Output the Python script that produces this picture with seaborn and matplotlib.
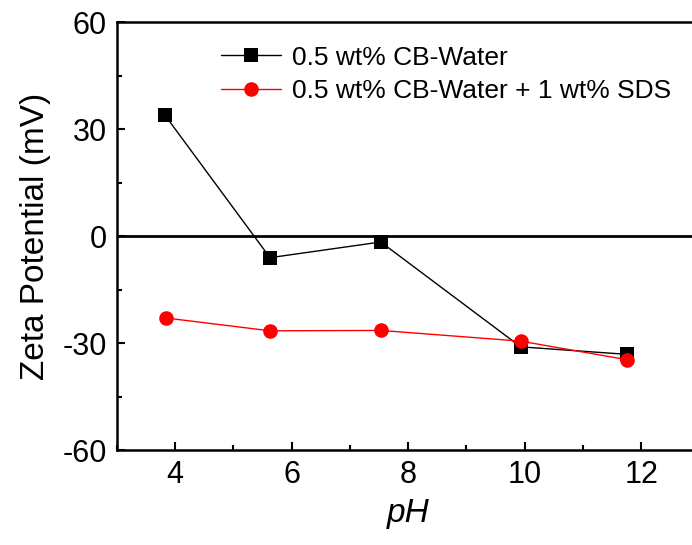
import matplotlib
matplotlib.use("Agg")
import matplotlib.pyplot as plt
from matplotlib.ticker import MultipleLocator
import seaborn as sns
import pandas as pd

ph_water = [3.83, 5.63, 7.53, 9.93, 11.75]
zeta_water = [33.9, -6.0, -1.6, -31.0, -33.1]
ph_sds = [3.84, 5.63, 7.53, 9.93, 11.75]
zeta_sds = [-22.9, -26.5, -26.4, -29.4, -34.6]
label_water = "0.5 wt% CB-Water"
label_sds = "0.5 wt% CB-Water + 1 wt% SDS"

sns.set_theme(style="white")
plt.rcParams['font.family'] = ['Liberation Sans', 'DejaVu Sans']
plt.rcParams['axes.unicode_minus'] = False
plt.rcParams['text.color'] = 'black'
plt.rcParams['axes.labelcolor'] = 'black'
plt.rcParams['xtick.color'] = 'black'
plt.rcParams['ytick.color'] = 'black'

fig = plt.figure(figsize=(6.92, 5.45), dpi=100)
ax = fig.add_axes([0.1686, 0.1738, 0.8425, 0.7853])

df_w = pd.DataFrame({"pH": ph_water, "zeta": zeta_water})
df_s = pd.DataFrame({"pH": ph_sds, "zeta": zeta_sds})

ax.axhline(0, color="black", lw=2.0, zorder=1)
sns.lineplot(data=df_w, x="pH", y="zeta", ax=ax, color="black", marker="s",
             markersize=9.5, markeredgewidth=0, lw=1.0, label=label_water, zorder=3)
sns.lineplot(data=df_s, x="pH", y="zeta", ax=ax, color="#ff0000", marker="o",
             markersize=10.5, markeredgewidth=0, lw=1.0, label=label_sds, zorder=4)

ax.set_xlim(3, 13)
ax.set_ylim(-60, 60)
ax.xaxis.set_major_locator(MultipleLocator(2))
ax.xaxis.set_minor_locator(MultipleLocator(1))
ax.yaxis.set_major_locator(MultipleLocator(30))
ax.yaxis.set_minor_locator(MultipleLocator(15))
ax.set_xticks([4, 6, 8, 10, 12])
ax.tick_params(axis="both", which="major", direction="in", length=6, width=1.5,
               labelsize=22, pad=7, bottom=True, left=True, top=False, right=False,
               color="black", labelcolor="black")
ax.tick_params(axis="both", which="minor", direction="in", length=3.5, width=1.5,
               bottom=True, left=True, top=False, right=False, color="black")
for s in ["left", "bottom", "top"]:
    ax.spines[s].set_linewidth(1.8)
    ax.spines[s].set_color("black")
ax.spines["right"].set_visible(False)

ax.set_xlabel("pH", fontsize=24, style="italic", labelpad=6, color="black")
ax.set_ylabel("Zeta Potential (mV)", fontsize=24, labelpad=8, color="black")

leg = ax.legend(loc="upper left", bbox_to_anchor=(0.16, 0.97), frameon=False,
                fontsize=19, handlelength=2.3, handletextpad=0.4, labelspacing=0.35,
                borderaxespad=0)
for t in leg.get_texts():
    t.set_color("black")

fig.savefig("out.png", dpi=100)
